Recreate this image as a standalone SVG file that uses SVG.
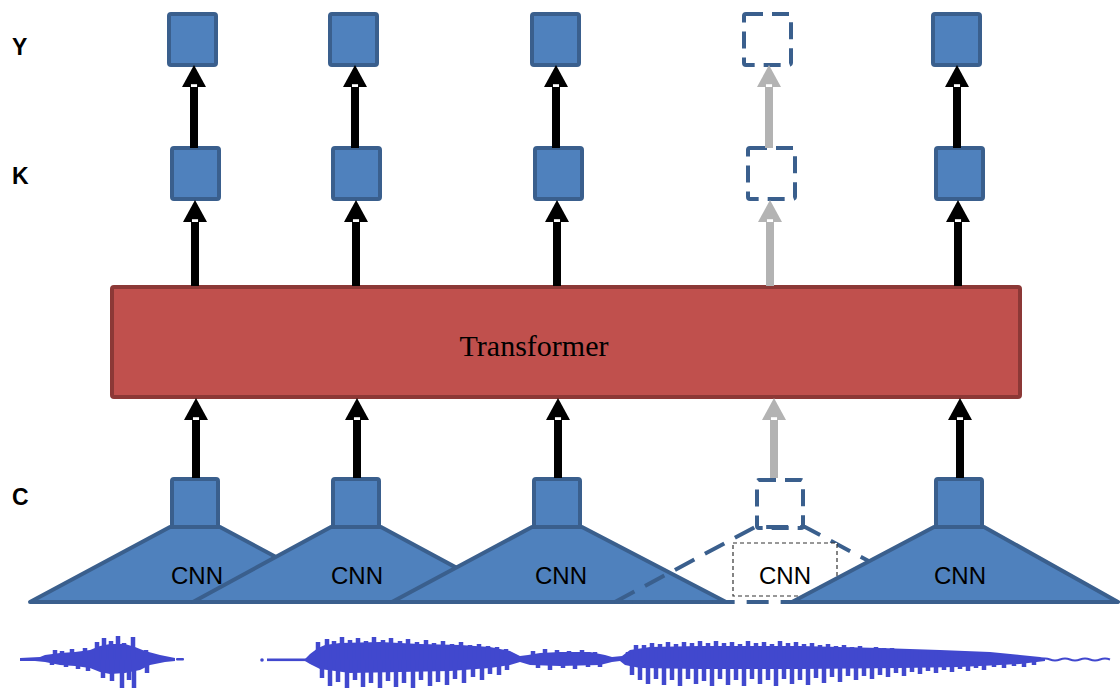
<svg xmlns="http://www.w3.org/2000/svg" width="1120" height="689" viewBox="0 0 1120 689">
  <style>
    .sq { fill: #4F81BD; stroke: #3A5F8D; stroke-width: 4; }
    .sqd { fill: none; stroke: #3A5F8D; stroke-width: 4; stroke-dasharray: 17 9; }
    .trap { fill: #4F81BD; stroke: #3A5F8D; stroke-width: 4; stroke-linejoin: round; }
    .trapd { fill: none; stroke: #3A5F8D; stroke-width: 4; stroke-dasharray: 22 12; }
    .lbl { font-family: "Liberation Sans", Arial, sans-serif; font-weight: bold; font-size: 23px; fill: #000; }
    .cnn { font-family: "Liberation Sans", Arial, sans-serif; font-size: 24px; fill: #000; text-anchor: middle; }
    .arr { stroke: #000; stroke-width: 8; marker-end: url(#head); }
    .arrg { stroke: #B3B3B3; stroke-width: 8; marker-end: url(#headg); }
    .wave { fill: #4148CE; }
    .spk { stroke: #4148CE; stroke-width: 4.5; fill: none; }
  </style>
  <defs>
    <marker id="head" markerUnits="strokeWidth" markerWidth="3" markerHeight="3" refX="0" refY="1.5" orient="auto" overflow="visible">
      <path d="M0,0 L2.75,1.5 L0,3 z" fill="#000"/>
      <rect x="0" y="1.12" width="0.35" height="0.76" fill="#fff"/>
    </marker>
    <marker id="headg" markerUnits="strokeWidth" markerWidth="3" markerHeight="3" refX="0" refY="1.5" orient="auto" overflow="visible">
      <path d="M0,0 L2.75,1.5 L0,3 z" fill="#B3B3B3"/>
      <rect x="0" y="1.12" width="0.35" height="0.76" fill="#fff"/>
    </marker>
  </defs>

  <rect width="1120" height="689" fill="#fff"/>

  <!-- row labels -->
  <g id="labels">
    <text class="lbl" x="12" y="55">Y</text>
    <text class="lbl" x="12" y="184">K</text>
    <text class="lbl" x="12" y="505">C</text>
  </g>

  <!-- CNN encoders -->
  <g id="cnn1"><polygon class="trap" points="30,602 170,527 220,527 360,602"/></g>
  <g id="cnn2"><polygon class="trap" points="193,602 331,527 381,527 520,602"/></g>
  <g id="cnn3"><polygon class="trap" points="392,602 532,527 582,527 726,602"/></g>
  <g id="cnn4"><polygon class="trapd" points="615,602 755,527 805,527 945,602"/></g>
  <g id="cnn4-box">
    <rect x="733" y="543" width="104" height="53" fill="#fff" stroke="#333" stroke-width="1.2" stroke-dasharray="4 3"/>
  </g>
  <g id="cnn5"><polygon class="trap" points="792,602 934,527 984,527 1118,602"/></g>
  <g id="cnn-labels">
    <text class="cnn" x="197" y="584">CNN</text>
    <text class="cnn" x="357" y="584">CNN</text>
    <text class="cnn" x="561" y="584">CNN</text>
    <text class="cnn" x="785" y="584">CNN</text>
    <text class="cnn" x="960" y="584">CNN</text>
  </g>

  <!-- C row -->
  <g id="c1"><rect class="sq" x="172" y="479" width="46" height="48" rx="2"/></g>
  <g id="c2"><rect class="sq" x="333" y="479" width="46" height="48" rx="2"/></g>
  <g id="c3"><rect class="sq" x="534" y="479" width="46" height="48" rx="2"/></g>
  <g id="c4"><rect class="sqd" x="757" y="480" width="46" height="48" rx="2"/></g>
  <g id="c5"><rect class="sq" x="936" y="479" width="46" height="48" rx="2"/></g>

  <!-- Transformer -->
  <g id="transformer">
    <rect x="112" y="287" width="908" height="110" rx="2" fill="#C0504D" stroke="#8C3836" stroke-width="4"/>
    <text x="534" y="356" font-family="Liberation Serif, 'Times New Roman', serif" font-size="30" text-anchor="middle" fill="#000">Transformer</text>
  </g>

  <!-- K row -->
  <g id="k1"><rect class="sq" x="172" y="148" width="47" height="51" rx="2"/></g>
  <g id="k2"><rect class="sq" x="333" y="148" width="47" height="51" rx="2"/></g>
  <g id="k3"><rect class="sq" x="535" y="148" width="47" height="51" rx="2"/></g>
  <g id="k4"><rect class="sqd" x="748" y="148" width="47" height="51" rx="2"/></g>
  <g id="k5"><rect class="sq" x="936" y="148" width="47" height="51" rx="2"/></g>

  <!-- Y row -->
  <g id="y1"><rect class="sq" x="169" y="14" width="47" height="51" rx="2"/></g>
  <g id="y2"><rect class="sq" x="330" y="14" width="47" height="51" rx="2"/></g>
  <g id="y3"><rect class="sq" x="532" y="14" width="47" height="51" rx="2"/></g>
  <g id="y4"><rect class="sqd" x="744" y="14" width="47" height="51" rx="2"/></g>
  <g id="y5"><rect class="sq" x="933" y="14" width="47" height="51" rx="2"/></g>

  <!-- connectors -->
  <g id="connectors">
    <line class="arr" x1="196" y1="478" x2="196" y2="420"/>
    <line class="arr" x1="357" y1="478" x2="357" y2="420"/>
    <line class="arr" x1="558" y1="478" x2="558" y2="420"/>
    <line class="arrg" x1="774" y1="478" x2="774" y2="420"/>
    <line class="arr" x1="960" y1="478" x2="960" y2="420"/>

    <line class="arr" x1="195" y1="286" x2="195" y2="222"/>
    <line class="arr" x1="356" y1="286" x2="356" y2="222"/>
    <line class="arr" x1="557" y1="286" x2="557" y2="222"/>
    <line class="arrg" x1="770" y1="286" x2="770" y2="222"/>
    <line class="arr" x1="958" y1="286" x2="958" y2="222"/>

    <line class="arr" x1="194" y1="148" x2="194" y2="87"/>
    <line class="arr" x1="355" y1="148" x2="355" y2="87"/>
    <line class="arr" x1="556" y1="148" x2="556" y2="87"/>
    <line class="arrg" x1="769" y1="148" x2="769" y2="87"/>
    <line class="arr" x1="957" y1="148" x2="957" y2="87"/>
  </g>

  <!-- audio waveform -->
  <g id="waveform">
    <polygon class="wave" points="20,658 40,657 45,655 60,653 75,652 90,650 100,646 110,644 125,644 135,647 145,651 160,655 170,657 175,658 175,661 165,662 150,665 140,670 125,673 110,674 100,672 90,668 75,666 60,665 45,662 35,661 20,661"/>
    <path class="spk" d="M55 650V659M62 651V659M72 649V659M85 648V659M97 642V659M104 638V659M111 641V659M118 636V659M124 643V659M133 637V659M146 650V659
      M52 665V660M66 667V660M78 669V660M88 671V660M103 678V660M112 681V660M122 688V660M129 680V660M134 688V660M147 673V660"/>
    <rect class="wave" x="176" y="658" width="8" height="2.5" rx="1"/>

    <circle class="wave" cx="262" cy="660" r="1.8"/>
    <rect class="wave" x="267" y="658.5" width="40" height="2.6"/>
    <polygon class="wave" points="305,659 310,654 318,648 325,645 340,643 380,642 420,644 460,645 490,647 510,651 520,656 528,655 540,653 560,652 590,652 605,655 612,657 622,656 630,650 650,647 700,646 800,646 880,648 940,650 990,652 1020,655 1040,657 1045,658 1045,661 1020,664 1000,665 960,667 900,668 800,669 700,669 640,668 625,665 620,661 612,662 600,665 560,666 530,665 520,662 510,665 490,668 450,671 400,672 350,673 320,669 310,664 305,661"/>
    <path class="spk" d="M318 642V659M327 639V659M334 641V659M342 637V659M350 640V659M358 638V659M366 641V659M374 637V659M383 640V659M391 638V659M400 641V659M408 639V659M417 642V659M426 640V659M434 643V659M443 641V659M452 644V659M461 642V659M470 645V659M479 644V659M488 646V659M497 647V659M506 649V659
      M322 678V660M330 686V660M338 682V660M347 688V660M355 680V660M363 687V660M371 683V660M380 688V660M388 681V660M396 687V660M404 683V660M413 688V660M421 680V660M430 686V660M438 682V660M447 685V660M455 679V660M464 683V660M473 677V660M482 680V660M490 674V660M499 675V660M507 670V660
      M533 651V659M545 649V659M557 650V659M569 651V659M582 650V659M595 652V659
      M538 668V660M550 670V660M563 668V660M575 669V660M588 667V660M600 667V660
      M628 652V659M636 645V659M644 645V659M652 643V659M660 644V659M668 642V659M676 644V659M684 642V659M692 643V659M700 641V659M708 643V659M716 641V659M724 643V659M732 642V659M740 644V659M748 641V659M756 643V659M764 642V659M772 644V659M780 641V659M788 643V659M796 642V659M804 644V659M812 643V659M820 645V659M828 644V659M836 646V659M844 645V659M852 647V659M860 646V659M868 648V659M876 647V659M884 648V659M892 648V659M900 649V659M908 649V659M916 650V659M924 650V659M932 651V659M940 651V659M948 652V659M956 652V659M964 653V659M972 653V659M980 654V659M990 655V659M1000 655V659M1010 656V659
      M632 675V660M640 680V660M648 684V660M656 679V660M664 685V660M672 680V660M680 686V660M688 679V660M696 684V660M704 681V660M712 686V660M720 679V660M728 685V660M736 680V660M744 686V660M752 679V660M760 684V660M768 680V660M776 686V660M784 679V660M792 684V660M800 680V660M808 685V660M816 678V660M824 683V660M832 677V660M840 682V660M848 676V660M856 680V660M864 676V660M872 679V660M880 675V660M888 677V660M896 673V660M904 676V660M912 672V660M920 674V660M928 671V660M936 673V660M944 670V660M952 672V660M960 669V660M968 671V660M976 668V660M984 670V660M994 667V660M1004 668V660M1014 666V660M1024 667V660M1034 665V660"/>
    <path d="M1040 659.5 q5 -2 10 0 t10 0 t10 0 t10 0 t10 0 t10 0 t10 0" fill="none" stroke="#4148CE" stroke-width="2"/>
  </g>
</svg>
